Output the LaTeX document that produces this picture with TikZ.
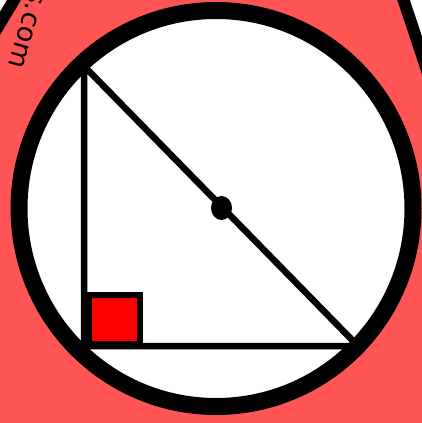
\documentclass[tikz,border=0pt]{standalone}
\usepackage{fontspec}
\newfontfamily\labelfont{DejaVu Sans}
\definecolor{bgred}{HTML}{FF5555}
\definecolor{sqred}{HTML}{FF0000}
\tikzset{
  ring/.style={draw=black, line width=17pt, fill=white},
  leg/.style={draw=black, line width=6.5pt, line cap=butt, line join=miter},
  rightmark/.style={draw=black, line width=5.7pt, fill=sqred},
  outerline/.style={draw=black, line width=12pt},
}
\begin{document}
\begin{tikzpicture}[x=1pt,y=-1pt]
\useasboundingbox (0,0) rectangle (422,423);
\fill[white] (0,0) rectangle (422,423);
\clip (0,0) rectangle (422,423);
\fill[bgred] (-60,500) -- (-60,110) -- (-25,65) .. controls (-10,40) .. (20,-10) -- (20,-30)
  -- (395,-30) -- (395,-25) .. controls (412,25) .. (440,110) -- (480,500) -- cycle;
\draw[outerline] (-25,65) .. controls (-10,40) .. (20,-10);
\draw[outerline] (395,-25) .. controls (412,25) .. (440,110);
\node[rotate=-106, inner sep=0pt, font=\labelfont\fontsize{27}{31}\selectfont] (wm) at (26.5,29) {s.com};
\path[ring] (216,208.5) ellipse [x radius=197, y radius=198];
\coordinate (A) at (84,66);
\coordinate (B) at (84,346);
\coordinate (C) at (358,346);
\draw[leg] (A) -- (B) -- (C) -- cycle;
\path[rightmark] (88.8,343.5) rectangle (140,295.3);
\fill[black] (221.5,208) ellipse [x radius=10.5, y radius=12];
\end{tikzpicture}
\end{document}
